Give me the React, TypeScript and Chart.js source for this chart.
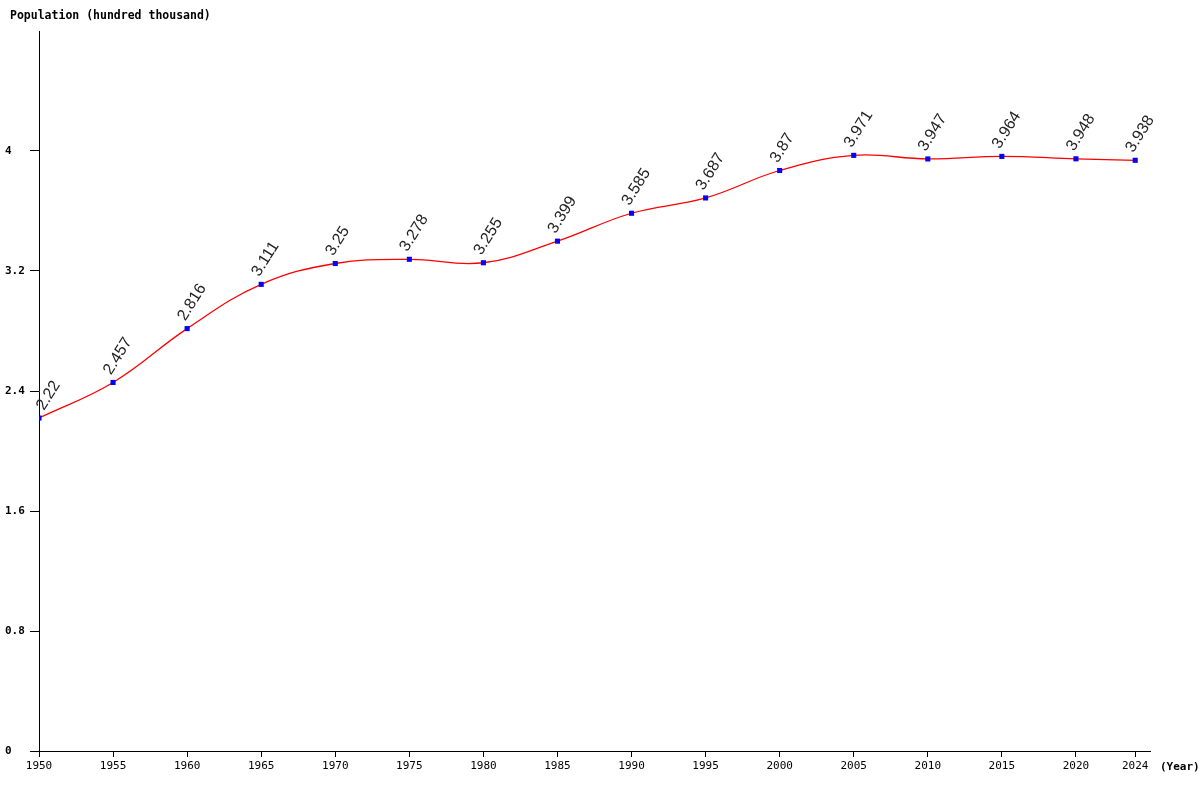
import React, { useEffect, useRef } from 'react';
import { Chart, registerables } from 'chart.js';

Chart.register(...registerables);

const years = [1950, 1955, 1960, 1965, 1970, 1975, 1980, 1985, 1990, 1995, 2000, 2005, 2010, 2015, 2020, 2024];
const population = [2.22, 2.457, 2.816, 3.111, 3.25, 3.278, 3.255, 3.399, 3.585, 3.687, 3.87, 3.971, 3.947, 3.964, 3.948, 3.938];
const yTicks = [0, 0.8, 1.6, 2.4, 3.2, 4];

const mono = '"DejaVu Sans Mono", "Liberation Mono", monospace';

// rotated value labels above every point, plus the axis captions
const labelsPlugin = {
  id: 'labels',
  afterDatasetsDraw(chart: any) {
    const ctx = chart.ctx;
    const meta = chart.getDatasetMeta(0);
    const left = chart.chartArea.left;
    ctx.save();
    ctx.fillStyle = '#222';
    ctx.font = '16px "Liberation Sans Narrow", "Arial Narrow", sans-serif';
    ctx.textAlign = 'left';
    ctx.textBaseline = 'alphabetic';
    meta.data.forEach((pt: any, i: number) => {
      ctx.save();
      // keep the first label clear of the y axis
      const x = Math.max(pt.x - 2, left + 5);
      ctx.translate(x, pt.y - 7);
      ctx.rotate((-58 * Math.PI) / 180);
      ctx.fillText(String(population[i]), 0, 0);
      ctx.restore();
    });
    ctx.restore();
  },
  afterDraw(chart: any) {
    const ctx = chart.ctx;
    ctx.save();
    ctx.fillStyle = '#000';
    ctx.font = 'bold 11.5px ' + mono;
    ctx.textBaseline = 'middle';
    ctx.textAlign = 'left';
    ctx.fillText('Population (hundred thousand)', 10, 16);
    ctx.font = 'bold 11px ' + mono;
    ctx.fillText('(Year)', 1160, 767);
    ctx.restore();
  },
};

const PopulationChart: React.FC = () => {
  const chartRef = useRef<HTMLCanvasElement>(null);
  const chartInstance = useRef<Chart | null>(null);

  useEffect(() => {
    if (chartRef.current) {
      const ctx = chartRef.current.getContext('2d');
      if (ctx) {
        if (chartInstance.current) {
          chartInstance.current.destroy();
        }

        chartInstance.current = new Chart(ctx, {
          type: 'line',
          data: {
            datasets: [{
              label: 'Population',
              data: years.map((y, i) => ({ x: y, y: population[i] })),
              borderColor: '#ff0000',
              borderWidth: 1.3,
              backgroundColor: '#0000ff',
              pointBackgroundColor: '#0000ff',
              pointBorderColor: '#0000ff',
              pointStyle: 'rect',
              pointRadius: 3.6,
              pointBorderWidth: 0,
              fill: false,
              tension: 0.4,
            }]
          },
          options: {
            responsive: false,
            animation: false,
            layout: {
              padding: { top: 31, right: 50, left: 5, bottom: 0 }
            },
            plugins: {
              legend: { display: false },
              tooltip: { enabled: false },
            },
            scales: {
              x: {
                type: 'linear',
                min: 1950,
                max: 2025,
                afterBuildTicks: (scale: any) => {
                  scale.ticks = years.map((v) => ({ value: v }));
                },
                afterFit: (scale: any) => {
                  scale.height = 49;
                },
                grid: {
                  drawOnChartArea: false,
                  color: '#000',
                  tickLength: 6,
                },
                border: { color: '#000', width: 1 },
                ticks: {
                  color: '#000',
                  font: { family: mono, size: 11 },
                  padding: 3,
                  maxRotation: 0,
                  autoSkip: false,
                  callback: (v: any) => String(v),
                },
              },
              y: {
                min: 0,
                max: 4.8,
                afterBuildTicks: (scale: any) => {
                  scale.ticks = yTicks.map((v) => ({ value: v }));
                },
                afterFit: (scale: any) => {
                  scale.width = 34;
                },
                grid: {
                  drawOnChartArea: false,
                  color: '#000',
                  tickLength: 9,
                },
                border: { color: '#000', width: 1 },
                ticks: {
                  color: '#000',
                  font: { family: mono, size: 11, weight: 'bold' },
                  crossAlign: 'far',
                  autoSkip: false,
                  callback: (v: any) => String(v),
                },
              },
            },
          },
          plugins: [labelsPlugin],
        });
      }
    }

    return () => {
      if (chartInstance.current) {
        chartInstance.current.destroy();
        chartInstance.current = null;
      }
    };
  }, []);

  return (
    <div style={{ position: 'absolute', left: 0, top: 0, width: 1200, height: 800, background: '#fff' }}>
      <canvas ref={chartRef} width={1200} height={800} />
    </div>
  );
};

export default PopulationChart;
